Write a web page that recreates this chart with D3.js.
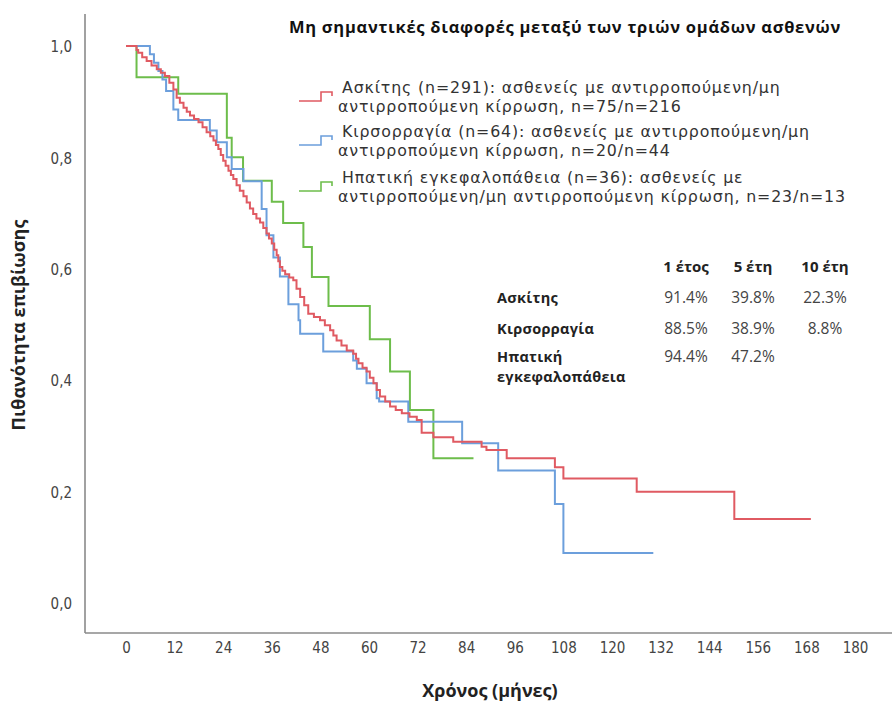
<!DOCTYPE html>
<html><head><meta charset="utf-8">
<script src="https://cdn.jsdelivr.net/npm/d3@7"></script>
<style>
body{margin:0;background:#fff;}
svg{display:block;}
</style></head>
<body><svg id="c" width="892" height="702"></svg>
<script>
// ---- data ----
const xTicks = [0,12,24,36,48,60,72,84,96,108,120,132,144,156,168,180];
const yTicks = [0,0.2,0.4,0.6,0.8,1.0];

const ascitesTime = [0,2.6,3.0,4.0,5.1,6.3,7.6,8.6,9.6,10.7,11.7,12.5,13.3,14.2,15.0,15.8,16.8,17.9,18.9,19.9,20.8,21.6,22.2,22.8,23.4,24.0,24.6,25.3,25.9,26.5,27.3,28.1,29.0,29.8,30.6,31.4,32.2,33.1,33.9,34.7,35.3,36.0,36.6,37.2,37.6,38.0,38.6,39.3,40.3,41.3,42.1,43.0,44.0,45.0,46.4,47.9,49.1,50.4,51.2,52.0,53.2,54.5,56.1,56.8,57.4,58.4,59.4,60.2,61.1,61.9,62.7,64.0,65.2,66.6,68.1,70.0,71.8,73.0,75.9,80.8,87.8,89.0,94.0,105.9,108.0,126.1,150.2,169.1];
const ascitesSurv = [1,0.993,0.988,0.980,0.973,0.965,0.958,0.952,0.946,0.934,0.922,0.907,0.898,0.889,0.882,0.875,0.869,0.863,0.854,0.845,0.838,0.830,0.822,0.815,0.804,0.794,0.785,0.776,0.768,0.761,0.750,0.740,0.730,0.719,0.708,0.698,0.690,0.683,0.673,0.663,0.654,0.645,0.634,0.624,0.613,0.603,0.596,0.590,0.584,0.579,0.564,0.549,0.534,0.519,0.513,0.507,0.498,0.489,0.480,0.471,0.462,0.453,0.447,0.438,0.430,0.422,0.415,0.404,0.394,0.382,0.370,0.361,0.352,0.346,0.340,0.334,0.328,0.305,0.297,0.289,0.280,0.274,0.259,0.243,0.223,0.199,0.150,0.150];

const bleedTime = [0,5.9,6.9,8.0,9.0,9.9,11.7,12.9,20.7,22.4,24.9,26.1,29.0,33.5,34.7,36.4,38.0,40.1,42.6,43.0,48.7,56.1,57.0,59.4,61.9,62.5,69.7,83.0,91.9,105.9,108.0,130.2];
const bleedSurv = [1,0.985,0.970,0.955,0.940,0.919,0.886,0.867,0.848,0.827,0.800,0.779,0.757,0.707,0.660,0.620,0.586,0.536,0.507,0.483,0.451,0.435,0.420,0.394,0.367,0.361,0.325,0.286,0.237,0.177,0.089,0.089];

const encTime = [0,2.6,12.9,24.9,26.1,28.9,36.0,38.8,43.8,45.9,50.0,60.2,65.2,70.1,75.9,85.8];
const encSurv = [1,0.944,0.914,0.835,0.800,0.758,0.720,0.682,0.639,0.585,0.533,0.473,0.415,0.346,0.259,0.259];

const seriesNames = ["Ασκίτης","Κιρσορραγία","Ηπατική εγκεφαλοπάθεια"];
const seriesColors = ["#e05a62","#6c9fdc","#6dbd4b"];
const legendLines = [
  ["Ασκίτης (n=291): ασθενείς με αντιρροπούμενη/μη","αντιρροπούμενη κίρρωση, n=75/n=216"],
  ["Κιρσορραγία (n=64): ασθενείς με αντιρροπούμενη/μη","αντιρροπούμενη κίρρωση, n=20/n=44"],
  ["Ηπατική εγκεφαλοπάθεια (n=36): ασθενείς με","αντιρροπούμενη/μη αντιρροπούμενη κίρρωση, n=23/n=13"]
];
const tableHeaders = ["1 έτος","5 έτη","10 έτη"];
const tableRows = [
  {label:["Ασκίτης"], vals:["91.4%","39.8%","22.3%"]},
  {label:["Κιρσορραγία"], vals:["88.5%","38.9%","8.8%"]},
  {label:["Ηπατική","εγκεφαλοπάθεια"], vals:["94.4%","47.2%",""]}
];
const titleText = "Μη σημαντικές διαφορές μεταξύ των τριών ομάδων ασθενών";
const xLabel = "Χρόνος (μήνες)";
const yLabel = "Πιθανότητα επιβίωσης";

// ---- drawing ----
const svg = d3.select("#c");
const x = d3.scaleLinear().domain([0,180]).range([126,855]);
const y = d3.scaleLinear().domain([0,1]).range([602.5,46]);

const tickFont = "'Liberation Sans Narrow','DejaVu Sans Condensed','Arial Narrow',sans-serif";
const textFont = "'Open Sans','Noto Sans',sans-serif";
const legFont = "'DejaVu Sans','Noto Sans',sans-serif";

// axis lines
svg.append("line").attr("x1",85).attr("x2",85).attr("y1",14).attr("y2",633)
  .attr("stroke","#8a8a8a").attr("stroke-width",1.6);
svg.append("line").attr("x1",85).attr("x2",892).attr("y1",633).attr("y2",633)
  .attr("stroke","#8a8a8a").attr("stroke-width",1.6);

// x axis (labels only, no tick marks)
const xAxis = d3.axisBottom(x).tickValues(xTicks).tickSize(0).tickPadding(0).tickFormat(d3.format("d"));
const gx = svg.append("g").attr("transform","translate(0,642)").call(xAxis);
gx.select(".domain").remove();
gx.selectAll("text").attr("font-family",tickFont).attr("font-size",15).attr("fill","#444").attr("dy","0.71em");

const yAxis = d3.axisLeft(y).tickValues(yTicks).tickSize(0).tickPadding(0).tickFormat(d=>d3.format(".1f")(d).replace(".",","));
const gy = svg.append("g").attr("transform","translate(72,1)").call(yAxis);
gy.select(".domain").remove();
gy.selectAll("text").attr("font-family",tickFont).attr("font-size",15).attr("fill","#444");

// axis titles
svg.append("text").attr("x",490).attr("y",697).attr("text-anchor","middle")
  .attr("font-family",textFont).attr("font-weight","bold").attr("font-size",18).attr("fill","#222").text(xLabel);
svg.append("text").attr("transform","translate(25,325) rotate(-90)").attr("text-anchor","middle")
  .attr("font-family",textFont).attr("font-weight","bold").attr("font-size",18).attr("fill","#222").text(yLabel);

// curves
const line = d3.line().x(d=>x(d[0])).y(d=>y(d[1])).curve(d3.curveStepAfter);
const series = [
  d3.zip(ascitesTime, ascitesSurv),
  d3.zip(bleedTime, bleedSurv),
  d3.zip(encTime, encSurv)
];
[2,1,0].forEach(i=>{
  svg.append("path").datum(series[i]).attr("d",line)
    .attr("fill","none").attr("stroke",seriesColors[i]).attr("stroke-width",2)
    .attr("stroke-linejoin","miter");
});

function fitWidth(sel, target){
  const node = sel.node();
  const w = node.getComputedTextLength();
  const n = node.textContent.length;
  if (n>1 && w<target) sel.attr("letter-spacing", ((target-w)/(n-1)).toFixed(2));
}

// title
const title = svg.append("text").attr("x",289).attr("y",33)
  .attr("font-family",textFont).attr("font-weight","bold").attr("font-size",16.5).attr("fill","#111").text(titleText);
fitWidth(title, 551);

// legend
const legBase = [93,137,183];
const legSpacing = 19;
let scaleLS = null;
legendLines.forEach((lines,i)=>{
  const b = legBase[i];
  const low = b + 8, high = b - 1;
  svg.append("path")
    .attr("d",`M299,${low} H321 V${high} H332 V${high+4}`)
    .attr("fill","none").attr("stroke",seriesColors[i]).attr("stroke-width",1.6);
  lines.forEach((t,j)=>{
    const tx = svg.append("text").attr("x", j===0?342:338).attr("y",b+j*legSpacing)
      .attr("font-family",legFont).attr("font-size",15.8).attr("fill","#333").text(t);
    if (scaleLS===null){
      const w = tx.node().getComputedTextLength();
      scaleLS = Math.max(0,(438 - w)/(t.length-1));
    }
    tx.attr("letter-spacing", scaleLS.toFixed(2));
  });
});

// table
const colX = [686,753,825];
svg.selectAll(".th").data(tableHeaders).enter().append("text")
  .attr("x",(d,i)=>colX[i]).attr("y",272).attr("text-anchor","middle")
  .attr("font-family",textFont).attr("font-weight","bold").attr("font-size",15).attr("fill","#222").text(d=>d);
const rowY = [303,334,362];
tableRows.forEach((r,i)=>{
  r.label.forEach((t,j)=>{
    svg.append("text").attr("x",497).attr("y",rowY[i]+j*20)
      .attr("font-family",textFont).attr("font-weight","bold").attr("font-size",14.5)
      .attr("letter-spacing",0.3).attr("fill","#222").text(t);
  });
  r.vals.forEach((v,k)=>{
    svg.append("text").attr("x",colX[k]).attr("y",rowY[i]).attr("text-anchor","middle")
      .attr("font-family",textFont).attr("font-size",15.5).attr("fill","#444").text(v);
  });
});
</script></body></html>
